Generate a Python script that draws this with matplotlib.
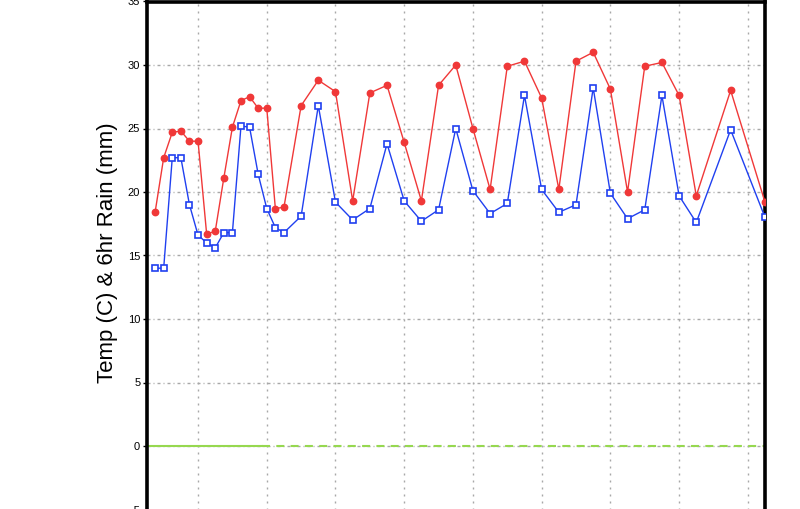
import matplotlib
matplotlib.use("Agg")
import matplotlib.pyplot as plt
import numpy as np

# ---- data (3-hour steps index) ----
time_idx = [0, 1, 2, 3, 4, 5, 6, 7, 8, 9, 10, 11, 12, 13, 14, 15,
            17, 19, 21, 23, 25, 27, 29, 31, 33, 35, 37, 39, 41, 43, 45, 47,
            49, 51, 53, 55, 57, 59, 61, 63, 67, 71]
temp = [18.4, 22.7, 24.7, 24.8, 24.0, 24.0, 16.7, 16.9, 21.1, 25.1, 27.2, 27.5,
        26.6, 26.6, 18.7, 18.8, 26.8, 28.8, 27.9, 19.3, 27.8, 28.4, 23.9, 19.3,
        28.4, 30.0, 25.0, 20.2, 29.9, 30.3, 27.4, 20.2, 30.3, 31.0, 28.1, 20.0,
        29.9, 30.2, 27.6, 19.7, 28.0, 19.2]
dewpt = [14.0, 14.0, 22.7, 22.7, 19.0, 16.6, 16.0, 15.6, 16.8, 16.8, 25.2, 25.1,
         21.4, 18.7, 17.2, 16.8, 18.1, 26.8, 19.2, 17.8, 18.7, 23.8, 19.3, 17.7,
         18.6, 25.0, 20.1, 18.3, 19.1, 27.6, 20.2, 18.4, 19.0, 28.2, 19.9, 17.9,
         18.6, 27.6, 19.7, 17.6, 24.9, 18.0]
rain_solid_x = [-1, 12.5]
rain_solid = [0, 0]
rain_dash_x = [12.5, 71]
rain_dash = [0, 0]
day_lines = [5, 13, 21, 29, 37, 45, 53, 61, 69]
yticks = [-5, 0, 5, 10, 15, 20, 25, 30, 35]

FONT = ["Liberation Sans", "DejaVu Sans"]

fig = plt.figure(figsize=(8.0, 5.09), dpi=100)
W, H = 800, 509
ax = fig.add_axes([146.5 / W, (H - 509.5) / H, 618.5 / W, 508.0 / H])
ax.set_xlim(-1, 71)
ax.set_ylim(-5, 35)

px = 0.72  # points per pixel
for x in day_lines:
    ax.axvline(x, color="#a8a8a8", lw=1.0, ls=(0, (2 * px, 5 * px)), zorder=1)
for y in yticks:
    ax.axhline(y, color="#a8a8a8", lw=1.0, ls=(0, (3 * px, 3 * px, 1 * px, 3 * px)), zorder=1)

ax.plot(rain_solid_x, rain_solid, color="#96d850", lw=1.5, zorder=2)
ax.plot(rain_dash_x, rain_dash, color="#96d850", lw=1.5,
        ls=(0, (8 * px / 1.5, 6.3 * px / 1.5)), zorder=2)

ax.plot(time_idx, dewpt, color="#2040f0", lw=1.0, marker="s", ms=5.0,
        mfc="white", mec="#2040f0", mew=1.2, zorder=3)
ax.plot(time_idx, temp, color="#f03838", lw=1.0, marker="o", ms=4.6,
        mfc="#f03838", mec="#f03838", mew=1.0, zorder=4)

ax.set_yticks(yticks)
ax.set_yticklabels([str(v) for v in yticks],
                   fontdict={"family": FONT, "size": 8})
ax.set_xticks([])
ax.tick_params(axis="y", length=3, width=1, pad=1.5, direction="out")
for side in ["left", "right", "top"]:
    ax.spines[side].set_linewidth(2.6)
    ax.spines[side].set_color("black")
ax.spines["bottom"].set_visible(False)

fig.text(107 / W, 1 - 253 / H, "Temp (C) & 6hr Rain (mm)", rotation=90,
         ha="center", va="center", fontsize=16, family=FONT)

fig.savefig("out.png", dpi=100)
